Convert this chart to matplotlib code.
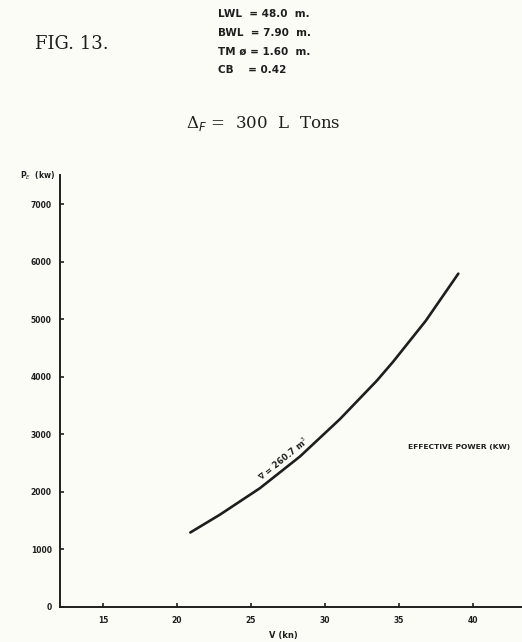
import matplotlib.pyplot as plt

# Curve (speed in knots, effective power in kW)
speed = [20.9, 22.9, 25.6, 28.3, 31.0, 33.5, 34.6, 36.8, 39.0]
power = [1290, 1600, 2060, 2610, 3260, 3930, 4260, 4970, 5790]

x_ticks = [15, 20, 25, 30, 35, 40]
y_ticks = [0, 1000, 2000, 3000, 4000, 5000, 6000, 7000]

hull_lines = ["LWL  = 48.0  m.", "BWL  = 7.90  m.", "TM \u00f8 = 1.60  m.", "CB    = 0.42"]

ink = '#1e1e1e'
paper = '#fcfcf7'

fig = plt.figure(figsize=(5.22, 6.42), dpi=100, facecolor=paper)
ax = fig.add_axes([0.115, 0.055, 0.885, 0.672], facecolor=paper)

ax.plot(speed, power, color=ink, linewidth=1.9, solid_capstyle='round',
        solid_joinstyle='round')

ax.set_xlim(12.1, 43.3)
ax.set_ylim(0, 7500)

# Only the left and bottom frame lines, like the drawing
ax.spines["top"].set_visible(False)
ax.spines["right"].set_visible(False)
ax.spines["left"].set_linewidth(1.4)
ax.spines["bottom"].set_linewidth(1.4)
ax.spines["left"].set_color(ink)
ax.spines["bottom"].set_color(ink)

ax.set_xticks(x_ticks)
ax.set_yticks(y_ticks)
ax.set_xticklabels([str(t) for t in x_ticks])
ax.set_yticklabels([str(t) for t in y_ticks])
ax.tick_params(axis='both', direction='in', length=3, width=1.2, colors=ink,
               labelsize=5.5)
ax.tick_params(axis='x', pad=7)
ax.tick_params(axis='y', pad=6)
for lab in ax.get_xticklabels() + ax.get_yticklabels():
    lab.set_fontweight('bold')

# Axis captions
fig.text(0.038, 0.726, "P$_E$  (kw)", fontsize=5.5, fontweight='bold', color=ink,
         ha='left', va='center')
fig.text(0.543, 0.01, "V (kn)", fontsize=6, fontweight='bold', color=ink,
         ha='center', va='center')

# Curve labels
ax.text(27.2, 2570, "\u2207 = 260.7 m$^3$", fontsize=6, fontweight='bold', color=ink,
        rotation=39, ha='center', va='center', rotation_mode='anchor')
ax.text(35.6, 2780, "EFFECTIVE POWER (KW)", fontsize=5.4, fontweight='bold',
        color=ink, ha='left', va='center')

# Header
fig.text(0.067, 0.931, "FIG. 13.", family='DejaVu Serif', fontsize=13, color=ink,
         ha='left', va='center')
for i, line in enumerate(hull_lines):
    fig.text(0.418, 0.978 - i * 0.029, line, fontsize=7.5, fontweight='bold',
             color=ink, ha='left', va='center')
fig.text(0.505, 0.807, "\u0394$_F$ =  300  L  Tons", family='DejaVu Serif', fontsize=12,
         color=ink, ha='center', va='center')

plt.savefig('out.png', dpi=100, facecolor=paper)
